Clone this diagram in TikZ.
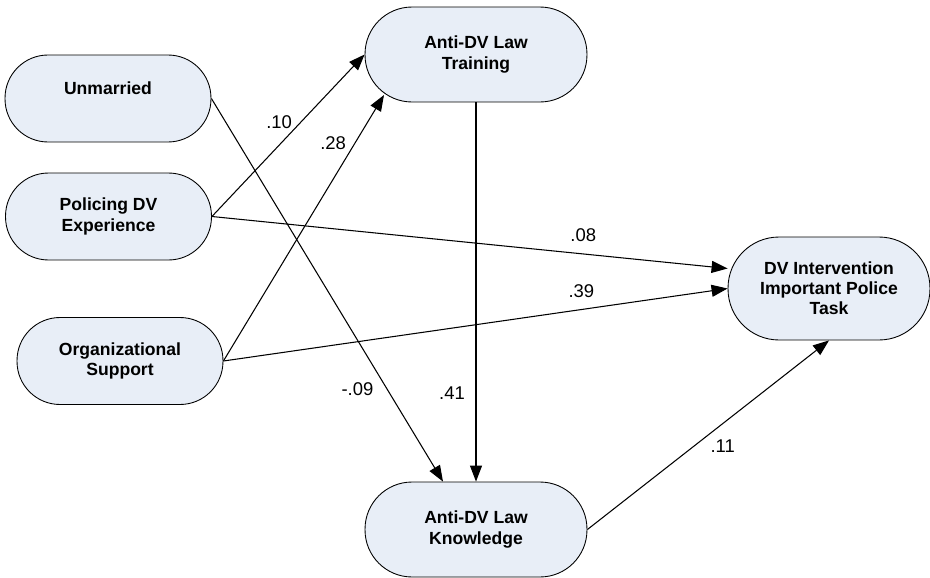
\documentclass[tikz,border=0pt]{standalone}
\usepackage{fontspec}
\setmainfont{Liberation Sans}
\usepackage{tikz}
\usetikzlibrary{arrows.meta}
\definecolor{PaleBlue}{RGB}{232,238,247}

\tikzset{
  factor/.style={rectangle, draw, fill=PaleBlue, line width=0.5pt, align=center,
    font=\fontsize{10}{11.5}\selectfont\bfseries, inner sep=0pt},
  small/.style={factor, minimum width=4.12cm, minimum height=1.74cm, rounded corners=0.86cm},
  large/.style={factor, minimum width=4.44cm, minimum height=1.9cm, rounded corners=0.94cm},
  outcome/.style={factor, minimum width=4.04cm, minimum height=2.06cm, rounded corners=1.02cm},
  path/.style={-{Triangle[length=0.32cm, width=0.24cm]}, line width=0.6pt},
  coef/.style={font=\fontsize{10.5}{12}\selectfont}
}

\begin{document}
\begin{tikzpicture}[x=0.02cm, y=-0.02cm]
      \useasboundingbox (0,0) rectangle (930,578);

      \node (unm) [small] at (108, 98.5) {Unmarried\\\mbox{}};
      \node (pol) [small] at (108.5, 216.5) {Policing DV\\Experience};
      \node (org) [small] at (120, 361) {Organizational\\Support};
      \node (train) [large] at (476, 54.5) {Anti-DV Law\\Training};
      \node (know) [large] at (476, 529.5) {Anti-DV Law\\Knowledge};
      \node (dv) [outcome] at (829, 288.5) {DV Intervention\\Important Police\\Task};

      \draw[path] (unm.east) to node [coef, pos=0.76, xshift=-0.6cm] {-.09} ([xshift=-0.66cm]know.north);
      \draw[path] (pol.east) to node [coef, pos=0.44, yshift=0.46cm] {.10} (train.west);
      \draw[path] (org.east) to node [coef, pos=0.82, xshift=-0.44cm] {.28} ([shift={(-92,40.5)}]train.center);
      \draw[path] (pol.east) to node [coef, pos=0.72, yshift=0.38cm] {.08} ([yshift=0.4cm]dv.west);
      \draw[path] (org.east) to node [coef, pos=0.71, yshift=0.36cm] {.39} (dv.west);
      \draw[path] (train.south) to node [coef, pos=0.766, xshift=-0.48cm] {.41} (know.north);
      \draw[path] (know.east) to node [coef, pos=0.56, yshift=-0.46cm] {.11} (dv.south);
    \end{tikzpicture}
\end{document}
